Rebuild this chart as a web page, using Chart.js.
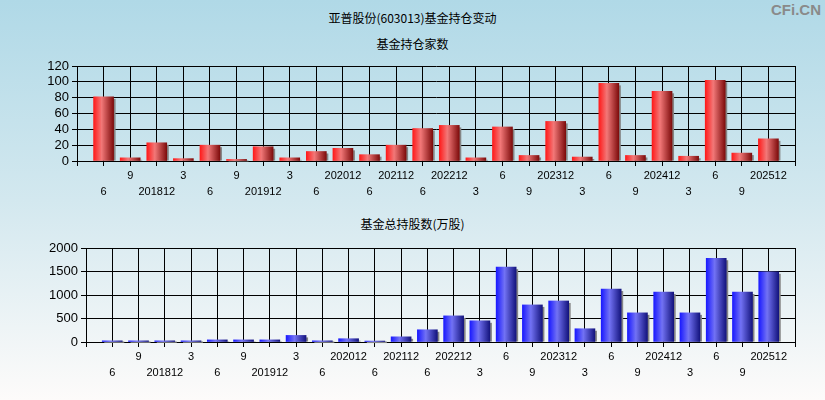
<!DOCTYPE html>
<html>
<head>
<meta charset="utf-8">
<script src="https://cdn.jsdelivr.net/npm/chart.js@4"></script>
<style>
  body { margin: 0; }
  #wrap {
    position: relative; width: 825px; height: 400px; overflow: hidden;
    background: linear-gradient(to bottom, #b0d9e7 0%, #d3e8ef 50%, #fdfbfa 100%);
    font-family: "Noto Sans CJK SC", sans-serif; color: #000;
  }
  .ttl { position: absolute; left: 0; width: 825px; text-align: center; font-size: 12px; line-height: 16px; }
  #mark { position: absolute; right: 4px; top: 1px; font: bold 15px "Liberation Sans", Arial, sans-serif; color: #8a8a8a; }
  canvas { position: absolute; left: 0; }
</style>
</head>
<body>
<div id="wrap">
  <div class="ttl" style="top:10px">亚普股份(603013)基金持仓变动</div>
  <div class="ttl" style="top:36px">基金持仓家数</div>
  <div class="ttl" style="top:216px">基金总持股数(万股)</div>
  <div id="mark">CFi.CN</div>
  <div style="position:absolute;left:0;top:0;width:825px;height:200px"><canvas id="c1"></canvas></div>
  <div style="position:absolute;left:0;top:200px;width:825px;height:200px"><canvas id="c2"></canvas></div>
</div>
<script>
// report periods (x axis labels)
const periods = ['6','9','201812','3','6','9','201912','3','6','202012','6','202112','6','202212',
                 '3','6','9','202312','3','6','9','202412','3','6','9','202512'];
// number of funds holding
const fundCount = [81,4,23,3,20,2,18,4,12,16,8,20,41,45,4,43,7,50,5,98,7,88,6,102,10,28];
// total shares held by funds (10k shares)
const fundShares = [25,25,25,25,45,45,45,140,25,70,20,110,260,556,451,1592,789,873,282,1127,620,1063,620,1782,1063,1493];

const redStops = [[0,'#ff1a1a'],[0.4,'#f27878'],[1,'#7e0c0c']];
const blueStops = [[0,'#1a1aff'],[0.42,'#7272f4'],[1,'#14147e']];

// bar shadow, drawn before the bars
const barShadow = {
  id: 'barShadow',
  beforeDatasetsDraw(chart) {
    const ctx = chart.ctx;
    chart.getDatasetMeta(0).data.forEach(bar => {
      const {x, y, base, width} = bar.getProps(['x', 'y', 'base', 'width'], true);
      ctx.fillStyle = '#858585';
      ctx.fillRect(x - width / 2 + 2, y + 2, width, base - y - 2);
    });
  }
};

function barChart(elm, values, yMax, yStep, stops, pad) {
  const ctx = document.getElementById(elm).getContext('2d');
  return new Chart(ctx, {
    type: 'bar',
    data: {
      datasets: [{
        data: values.map((v, i) => ({x: i + 1, y: v})),
        barThickness: 20,
        borderWidth: 0,
        backgroundColor: c => {
          const sx = c.chart.scales.x;
          if (!sx || !c.parsed) return stops[0][1];
          const left = sx.getPixelForValue(c.parsed.x) - 10;
          if (!isFinite(left)) return stops[0][1];
          const g = c.chart.ctx.createLinearGradient(left, 0, left + 20, 0);
          stops.forEach(s => g.addColorStop(s[0], s[1]));
          return g;
        }
      }]
    },
    options: {
      responsive: true,
      maintainAspectRatio: false,
      animation: false,
      layout: {padding: {top: pad.top, right: 30, left: 0, bottom: 0}},
      plugins: {
        legend: {display: false},
        tooltip: {enabled: false}
      },
      scales: {
        x: {
          type: 'linear',
          min: 0,
          max: periods.length + 1,
          offset: false,
          grid: {color: '#000', lineWidth: 1, tickLength: 5, offset: false},
          border: {color: '#000'},
          afterFit: s => { s.height = pad.xh; },
          ticks: {
            stepSize: 1,
            maxTicksLimit: 100,
            autoSkip: false,
            maxRotation: 0,
            padding: 2,
            color: '#000',
            font: {family: '"Liberation Sans", Arial, sans-serif', size: 11, lineHeight: 16 / 11},
            callback: function (v) {
              const i = v - 1;
              if (i < 0 || i >= periods.length) return '';
              return i % 2 === 0 ? ['', periods[i]] : [periods[i], ''];
            }
          }
        },
        y: {
          min: 0,
          max: yMax,
          grid: {color: '#000', lineWidth: 1, tickLength: 5},
          border: {color: '#000'},
          afterFit: s => { s.width = pad.yw; },
          ticks: {
            stepSize: yStep,
            maxTicksLimit: 100,
            autoSkip: false,
            padding: 3,
            color: '#000',
            font: {family: '"Liberation Sans", Arial, sans-serif', size: 13},
            callback: v => String(v)
          }
        }
      }
    },
    plugins: [barShadow]
  });
}

barChart('c1', fundCount, 120, 20, redStops, {top: 66, xh: 39, yw: 77});
barChart('c2', fundShares, 2000, 500, blueStops, {top: 48, xh: 58, yw: 86});
</script>
</body>
</html>
